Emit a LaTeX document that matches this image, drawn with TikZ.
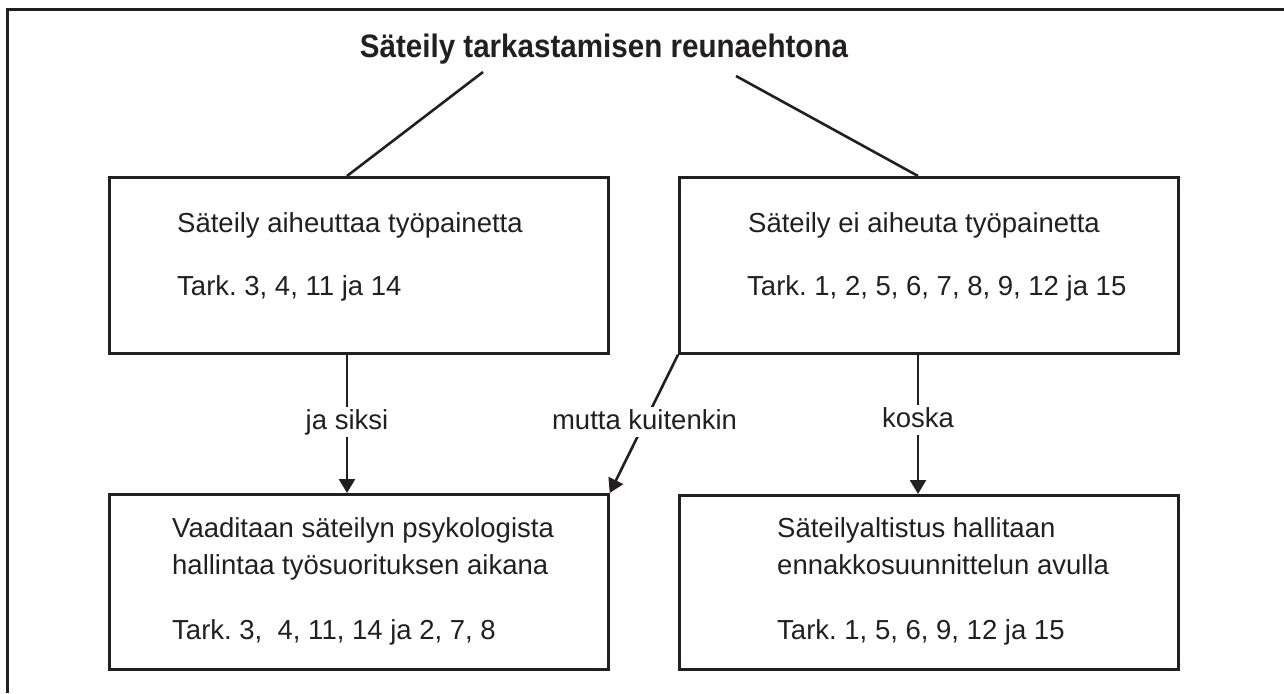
\documentclass[tikz,border=0pt]{standalone}
\usepackage{fontspec}
\setmainfont{Liberation Sans}
\newfontfamily\titlefont[FakeStretch=0.91]{Liberation Sans}
\usetikzlibrary{arrows.meta}
\definecolor{ink}{HTML}{231F20}
\frenchspacing
\tikzset{
  boxnode/.style={draw=ink, line width=2.7pt, rectangle, inner sep=0pt, anchor=north west},
  frameline/.style={draw=ink, line width=3pt},
  conn/.style={draw=ink, line width=2.6pt},
  arr/.style={conn, -{Triangle[width=16pt,length=14pt]}},
  txt/.style={inner sep=0pt, anchor=base west, align=left, text=ink, font=\fontsize{27.5}{37}\selectfont},
  lbl/.style={fill=white, inner sep=2pt, text=ink, font=\fontsize{27.5}{33}\selectfont, text height=20pt, text depth=6pt},
}
\begin{document}
\begin{tikzpicture}[x=1pt,y=-1pt]
\useasboundingbox (0,0) rectangle (1284,693);
% frame
\coordinate (fbl) at (7,693);
\coordinate (ftl) at (7,10);
\coordinate (ftr) at (1284,10);
\draw[frameline] (fbl) -- (ftl) -- (ftr);
% title
\node[inner sep=0pt, anchor=base, text=ink, font=\titlefont\bfseries\fontsize{32.5}{36}\selectfont] (title) at (604,58) {Säteily tarkastamisen reunaehtona};
\coordinate (tL) at (483,72);
\coordinate (tR) at (736,76);
% boxes
\node[boxnode, minimum width=499pt, minimum height=176pt] (tl) at (108,176) {};
\node[boxnode, minimum width=499pt, minimum height=176pt] (tr) at (678,176) {};
\node[boxnode, minimum width=499pt, minimum height=175pt] (bl) at (108,493) {};
\node[boxnode, minimum width=499pt, minimum height=174pt] (br) at (678,494) {};
% texts
\node[txt] (tl1) at (177,232) {Säteily aiheuttaa työpainetta};
\node[txt] (tl2) at (177,295) {Tark. 3, 4, 11 ja 14};
\node[txt] (tr1) at (748,232) {Säteily ei aiheuta työpainetta};
\node[txt] (tr2) at (747,295) {Tark. 1, 2, 5, 6, 7, 8, 9, 12 ja 15};
\node[txt] (bl1) at (172,574) {Vaaditaan säteilyn psykologista\\hallintaa työsuorituksen aikana};
\node[txt] (bl2) at (172,639) {Tark. 3,\ \ 4, 11, 14 ja 2, 7, 8};
\node[txt] (br1) at (777,574) {Säteilyaltistus hallitaan\\ennakkosuunnittelun avulla};
\node[txt] (br2) at (777,639) {Tark. 1, 5, 6, 9, 12 ja 15};
% title connectors
\draw[conn] (tl.north west) ++(239,0) coordinate (tlt) -- (tL);
\draw[conn] (tr.north west) ++(240,0) coordinate (trt) -- (tR);
% arrows
\draw[arr] (tl.south west) ++(239,0) coordinate (ja) -- node[lbl, pos=0.49] (lja) {ja siksi} (ja |- bl.north);
\draw[arr] (tr.south west) -- node[lbl, pos=0.49] (lmk) {mutta kuitenkin} (bl.north east);
\draw[arr] (tr.south west) ++(240,0) coordinate (ko) -- node[lbl, pos=0.47] (lko) {koska} (ko |- br.north);
\end{tikzpicture}
\end{document}
